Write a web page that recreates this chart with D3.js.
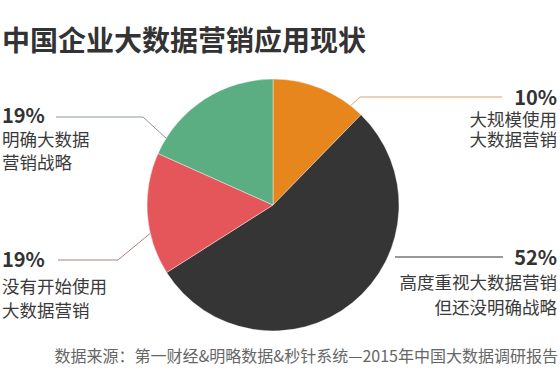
<!DOCTYPE html>
<html>
<head>
<meta charset="utf-8">
<script src="https://cdn.jsdelivr.net/npm/d3@7"></script>
<style>
  html, body { margin: 0; padding: 0; background: #fff; }
  svg text { font-family: "Noto Sans CJK SC", "Noto Sans", sans-serif; }
</style>
</head>
<body>
<div id="svganchor"></div>
<script>
let width = 560;
let height = 388;

// Slice sizes as drawn (clockwise from 12 o'clock) and the printed labels
let categories = ["大规模使用大数据营销", "高度重视大数据营销但还没明确战略", "没有开始使用大数据营销", "明确大数据营销战略"];
let shares = [12.3, 53.7, 15.7, 18.3];
let pctLabels = ["10%", "52%", "19%", "19%"];
let labelLines = [
    ["大规模使用", "大数据营销"],
    ["高度重视大数据营销", "但还没明确战略"],
    ["没有开始使用", "大数据营销"],
    ["明确大数据", "营销战略"]
];
let sliceColors = ["#E8861E", "#353535", "#E5565A", "#5BAE82"];
let lineColors = ["#D9A46E", "#333333", "#A98080", "#8A9A92"];

let title = "中国企业大数据营销应用现状";
let source = "数据来源：第一财经&明略数据&秒针系统—2015年中国大数据调研报告";

let cx = 273, cy = 205, radius = 126;

// label placement: anchor side, x, baseline of the percentage, line offsets, leader (start angle deg, elbow, end)
let layout = [
    {anchor: "end",   x: 557, y: 105, first: 21, step: 20, leader: {deg: 38,  elbow: [360, 97],  end: [502, 97]}},
    {anchor: "end",   x: 557, y: 265, first: 24, step: 25, leader: {deg: 115, elbow: [395, 257], end: [503, 257]}},
    {anchor: "start", x: 2,   y: 267, first: 26, step: 24, leader: {deg: 257, elbow: [118, 260], end: [58, 260]}},
    {anchor: "start", x: 2,   y: 123, first: 23, step: 23, leader: {deg: 302, elbow: [143, 117], end: [56, 117]}}
];

let svg = d3.select("#svganchor")
    .append("svg")
    .attr("width", width)
    .attr("height", height);

svg.append("text")
    .attr("x", 2)
    .attr("y", 51)
    .attr("font-size", 28)
    .attr("font-weight", "bold")
    .attr("fill", "#333")
    .text(title);

let pie = d3.pie().sort(null).value(function(d) { return d; });
let arc = d3.arc().innerRadius(0).outerRadius(radius);

let g = svg.append("g")
    .attr("transform", "translate(" + cx + "," + cy + ")");

g.selectAll(".slice")
    .data(pie(shares))
    .enter()
    .append("path")
    .attr("class", "slice")
    .attr("d", arc)
    .attr("fill", function(d, i) { return sliceColors[i]; })
    .attr("stroke", "#fff")
    .attr("stroke-width", 0.4);

// leader lines
layout.forEach(function(l, i) {
    let a = l.leader.deg * Math.PI / 180;
    let sx = cx + Math.sin(a) * radius;
    let sy = cy - Math.cos(a) * radius;
    let pts = [[sx, sy], l.leader.elbow, l.leader.end];
    if (i === 1) pts = [l.leader.elbow, l.leader.end];
    svg.append("path")
        .attr("d", d3.line()(pts))
        .attr("fill", "none")
        .attr("stroke", lineColors[i])
        .attr("stroke-width", 1);
});

// labels: one text block per slice, percentage then two lines
layout.forEach(function(l, i) {
    let label = svg.append("text")
        .attr("x", l.x)
        .attr("y", l.y)
        .attr("text-anchor", l.anchor)
        .attr("fill", "#3a3a3a");
    label.append("tspan")
        .attr("x", l.x)
        .attr("y", l.y)
        .attr("font-size", 20)
        .attr("font-weight", "bold")
        .attr("fill", "#333")
        .text(pctLabels[i]);
    labelLines[i].forEach(function(t, j) {
        label.append("tspan")
            .attr("x", l.x)
            .attr("y", l.y + l.first + j * l.step)
            .attr("font-size", 17.5)
            .text(t);
    });
});

svg.append("text")
    .attr("x", 558)
    .attr("y", 362)
    .attr("text-anchor", "end")
    .attr("font-size", 16)
    .attr("fill", "#666")
    .text(source);
</script>
</body>
</html>
